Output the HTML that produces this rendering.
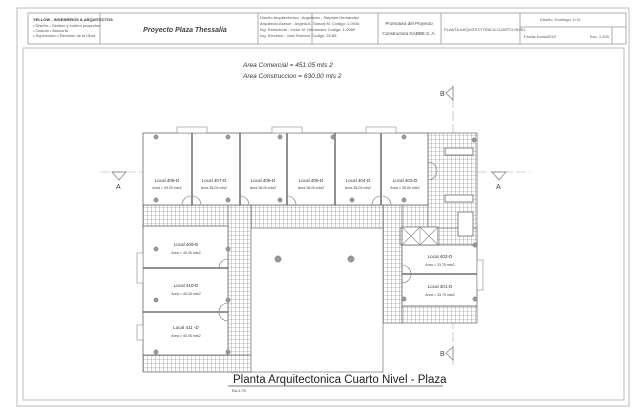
<!DOCTYPE html>
<html><head><meta charset="utf-8"><style>
html,body{margin:0;padding:0;background:#fff;}
svg{display:block;font-family:"Liberation Sans",sans-serif;}
</style></head><body>
<svg width="640" height="414" viewBox="0 0 640 414">
<defs>
<pattern id="tile" width="4" height="4" patternUnits="userSpaceOnUse">
<rect width="4" height="4" fill="#fff"/>
<path d="M4 0V4M0 4H4" stroke="#777" stroke-width="0.6"/>
</pattern>
</defs>
<rect x="17" y="8" width="612" height="398" fill="none" stroke="#bbb" stroke-width="1"/>
<rect x="23" y="48" width="601" height="352" fill="none" stroke="#bbb" stroke-width="1"/>
<g stroke="#999" fill="none" stroke-width="0.8">
<rect x="28" y="13" width="598" height="31"/>
<line x1="100" y1="13" x2="100" y2="44"/>
<line x1="258" y1="13" x2="258" y2="44"/>
<line x1="312" y1="13" x2="312" y2="44"/>
<line x1="378" y1="13" x2="378" y2="44"/>
<line x1="441" y1="13" x2="441" y2="44"/>
<line x1="520" y1="13" x2="520" y2="44"/>
<line x1="520" y1="27" x2="626" y2="27"/>
<line x1="612" y1="27" x2="612" y2="44"/>
</g>
<g font-size="4" fill="#555">
<text x="33" y="21" font-weight="bold" fill="#333">YELLOW - INGENIEROS &amp; ARQUITECTOS</text>
<text x="33" y="27">• Diseño      • Gestion y control proyectos</text>
<text x="33" y="32">• Calculo      • Asesoria</text>
<text x="33" y="37">• Supervision  • Revision de la Obra</text>
<text x="260" y="19">Diseño Arquitectonico : Arquitecto - Stephen Hernandez</text>
<text x="260" y="25">Arquitecto Asesor  : Angela A. Gonzal M.     Codigo: 1-0045</text>
<text x="260" y="31">Ing. Estructural   : Victor M. Hernandez     Codigo: 1-0089</text>
<text x="260" y="37">Ing. Electrico     : Jose Romero             Codigo: 25-85</text>
<text x="444" y="31">PLANTA ARQUITECTONICA CUARTO NIVEL</text>
<text x="540" y="21">Diseño: Domingo, D.N.</text>
<text x="524" y="38">Fecha:Junio/2010</text>
<text x="590" y="38">Esc. 1:100</text>
</g>
<text x="185" y="32" font-size="7" font-weight="bold" font-style="italic" fill="#444" text-anchor="middle">Proyecto Plaza Thessalia</text>
<text x="409" y="25" font-size="4.5" fill="#444" text-anchor="middle">Promotora del Proyecto</text>
<text x="409" y="35" font-size="4.5" fill="#444" text-anchor="middle">Constructora GABBE S. A.</text>

<text x="243" y="67" font-size="6.5" font-style="italic" fill="#333">Area Comercial = 451.05 mts 2</text>
<text x="243" y="78" font-size="6.5" font-style="italic" fill="#333">Area Construccion = 630.00 mts 2</text>

<g stroke="#aaa" stroke-width="0.6" fill="none">
<line x1="100" y1="172" x2="530" y2="172" stroke-dasharray="10 3"/>
<line x1="453" y1="85" x2="453" y2="365" stroke-dasharray="10 3"/>
</g>
<g stroke="#777" stroke-width="0.7" fill="none">
<path d="M112 172 L126 172 L119 180 Z"/>
<path d="M492 172 L506 172 L499 180 Z"/>
<path d="M453 87 L453 100 L446 93 Z"/>
<path d="M453 347 L453 360 L446 353 Z"/>
</g>
<g font-size="7" fill="#444">
<text x="116" y="189">A</text><text x="496" y="189">A</text>
<text x="440" y="96">B</text><text x="440" y="356">B</text>
</g>

<g stroke="#666" stroke-width="0.7">
<rect x="143" y="205" width="285" height="23" fill="url(#tile)"/>
<rect x="228" y="205" width="23" height="167" fill="url(#tile)"/>
<rect x="143" y="355" width="108" height="17" fill="url(#tile)"/>
<rect x="428" y="133" width="49" height="112" fill="url(#tile)"/>
<rect x="383" y="205" width="19" height="118" fill="url(#tile)"/>
<rect x="402" y="306" width="75" height="17" fill="url(#tile)"/>
<rect x="400" y="228" width="77" height="17" fill="url(#tile)"/>
</g>
<g fill="#fff" stroke="#666" stroke-width="0.8">
<rect x="143" y="133" width="285" height="72"/>
<rect x="143" y="226" width="85" height="129"/>
<rect x="402" y="245" width="75" height="61"/>
<rect x="251" y="228" width="132" height="144" stroke="#888"/>
<rect x="402" y="227" width="36" height="18"/>
<rect x="445" y="148" width="28" height="7"/>
<rect x="445" y="195" width="28" height="7"/>
<rect x="458" y="212" width="15" height="24"/>
</g>
<g stroke="#888" stroke-width="0.6">
<line x1="402" y1="227" x2="420" y2="245"/><line x1="420" y1="227" x2="402" y2="245"/>
<line x1="420" y1="227" x2="438" y2="245"/><line x1="438" y1="227" x2="420" y2="245"/>
<line x1="420" y1="227" x2="420" y2="245"/>
</g>
<g stroke="#555" stroke-width="1.3">
<line x1="192" y1="133" x2="192" y2="205"/>
<line x1="240" y1="133" x2="240" y2="205"/>
<line x1="287" y1="133" x2="287" y2="205"/>
<line x1="335" y1="133" x2="335" y2="205"/>
<line x1="381" y1="133" x2="381" y2="205"/>
<line x1="143" y1="268" x2="228" y2="268"/>
<line x1="143" y1="312" x2="228" y2="312"/>
<line x1="402" y1="274" x2="477" y2="274"/>
</g>
<g fill="#fff" stroke="#888" stroke-width="0.6">
<rect x="177" y="127" width="30" height="6"/>
<rect x="272" y="127" width="30" height="6"/>
<rect x="366" y="127" width="30" height="6"/>
<rect x="137" y="253" width="6" height="30"/>
<rect x="137" y="325" width="6" height="15"/>
<rect x="477" y="260" width="6" height="30"/>
</g>
<g fill="none" stroke="#777" stroke-width="0.6">
<path d="M182 205 A9 9 0 0 1 191 196 M192 196 A9 9 0 0 1 201 205"/>
<path d="M240 196 A9 9 0 0 1 249 205"/>
<path d="M287 196 A9 9 0 0 1 296 205"/>
<path d="M372 205 A9 9 0 0 1 381 196 M382 196 A9 9 0 0 1 391 205"/>
<path d="M228 259 A9 9 0 0 0 219 268"/>
<path d="M228 303 A9 9 0 0 0 219 312 M219 312 A9 9 0 0 0 228 321"/>
<path d="M402 265 A9 9 0 0 1 411 274 M411 274 A9 9 0 0 1 402 283"/>
<path d="M428 162 A9 9 0 0 1 437 171 M437 171 A9 9 0 0 1 428 180"/>
</g>
<g fill="#999" stroke="#777" stroke-width="0.4">
<circle cx="156" cy="137" r="2.2"/><circle cx="228" cy="137" r="2.2"/><circle cx="280" cy="137" r="2.2"/>
<circle cx="333" cy="137" r="2.2"/><circle cx="404" cy="137" r="2.2"/>
<circle cx="156" cy="200" r="2.2"/><circle cx="228" cy="200" r="2.2"/><circle cx="280" cy="200" r="2.2"/>
<circle cx="352" cy="200" r="2.2"/><circle cx="404" cy="200" r="2.2"/><circle cx="474" cy="140" r="2.2"/>
<circle cx="156" cy="249" r="2.2"/><circle cx="228" cy="249" r="2.2"/><circle cx="156" cy="300" r="2.2"/>
<circle cx="228" cy="300" r="2.2"/><circle cx="156" cy="352" r="2.2"/><circle cx="228" cy="352" r="2.2"/>
<circle cx="278" cy="259" r="3.2"/><circle cx="351" cy="259" r="3.2"/>
<circle cx="404" cy="299" r="2.2"/><circle cx="475" cy="299" r="2.2"/><circle cx="475" cy="245" r="2.2"/>
</g>
<g font-size="4.6" fill="#333" text-anchor="middle">
<text x="167" y="182">Local 408-D</text><text x="214" y="182">Local 407-D</text>
<text x="263" y="182">Local 406-D</text><text x="311" y="182">Local 405-D</text>
<text x="358" y="182">Local 404-D</text><text x="405" y="182">Local 403-D</text>
<text x="186" y="246">Local 409-D</text><text x="186" y="287">Local 410-D</text>
<text x="186" y="329">Local 411 -D</text>
<text x="440" y="258">Local 402-D</text><text x="440" y="288">Local 401-D</text>
</g>
<g font-size="3.6" fill="#444" text-anchor="middle">
<text x="167" y="189">Area = 39.20 mts2</text><text x="214" y="189">Area 38.00 mts2</text>
<text x="263" y="189">Area 38.00 mts2</text><text x="311" y="189">Area 38.00 mts2</text>
<text x="358" y="189">Area 38.00 mts2</text><text x="405" y="189">Area = 38.60 mts2</text>
<text x="186" y="254">Area = 45.00 mts2</text><text x="186" y="295">Area = 45.00 mts2</text>
<text x="186" y="337">Area = 45.00 mts2</text>
<text x="440" y="266">Area = 33.75 mts2</text><text x="440" y="296">Area = 33.75 mts2</text>
</g>
<text x="233" y="383" font-size="11.5" fill="#222">Planta Arquitectonica Cuarto  Nivel - Plaza</text>
<line x1="228" y1="386" x2="443" y2="386" stroke="#777" stroke-width="1"/>
<text x="232" y="392" font-size="3.5" fill="#444">Esc.1:75</text>
</svg>
</body></html>
